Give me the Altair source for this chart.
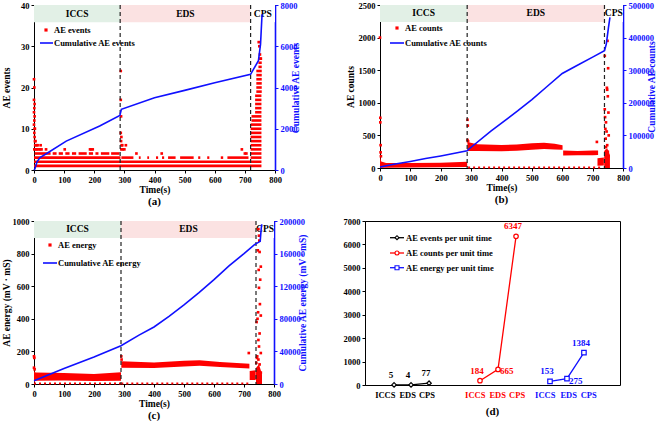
import altair as alt
import pandas as pd

FONT = "Liberation Serif"
RED = "#ff0000"
BLUE = "#1010ff"
ICCS_FILL = "#e2f0e6"
EDS_FILL = "#fbe2e2"
TICK_FS = 8.5
TITLE_FS = 9.5

time_ticks = [0, 100, 200, 300, 400, 500, 600, 700, 800]

# ---------------- (a) AE events ----------------
a_bounds = [286, 719]
a_cum_t = [0, 3, 10, 20, 42, 107, 218, 285, 290, 400, 500, 600, 719, 745, 752, 757]
a_cum_v = [0, 50, 400, 600, 800, 1400, 2130, 2650, 2940, 3500, 3860, 4230, 4640, 5300, 6100, 7550]
# dense rows of integer event counts: level, start time, end time
a_row_level = [1, 2, 3,
               3, 3, 3, 3, 3, 3, 3, 3, 3, 3, 3,
               3,
               4, 4, 4, 4, 4, 4, 4, 4, 4, 4,
               4, 5, 6, 7, 8, 9, 10, 11,
               12, 13, 14, 15, 16, 17, 18,
               19, 20, 21, 22, 23, 24, 25, 26, 27]
a_row_start = [0, 0, 0,
               290, 348, 376, 405, 425, 445, 485, 545, 575, 620, 642,
               719,
               2, 62, 82, 104, 126, 148, 182, 204, 222, 256,
               719, 719, 719, 719, 719, 719, 719, 719,
               722, 722, 734, 734, 734, 734, 734,
               738, 738, 738, 738, 738, 738, 745, 745, 745]
a_row_end = [755, 755, 287,
             330, 354, 382, 412, 432, 470, 530, 552, 582, 628, 712,
             755,
             55, 75, 96, 118, 140, 175, 196, 214, 250, 284,
             755, 755, 755, 755, 755, 755, 755, 755,
             755, 755, 755, 755, 755, 755, 755,
             756, 756, 756, 756, 756, 756, 756, 756, 756]
a_pt_t = [0, 1, 0, 2, 1, 0, 2, 1, 0, 2, 3, 1, 2, 3, 5, 8, 4, 12, 1, 6, 10, 15, 20, 25, 40, 102, 186, 190, 195, 22,
          288, 288, 289, 288, 290, 289, 291, 293, 290, 295, 300, 305, 340, 424, 690, 705, 700,
          746, 748, 750, 753]
a_pt_v = [22, 20, 17, 16, 15, 14, 13, 12, 11, 10, 10, 9, 8, 7, 7, 6, 6, 6, 5, 5, 5, 5, 5, 5, 5, 5, 5, 5, 5, 6,
          24, 17, 13, 9, 8, 7, 6, 6, 5, 5, 5, 6, 4, 4, 5, 4, 4,
          31, 30, 28, 27]

# ---------------- (b) AE counts ----------------
b_bounds = [287, 739]
b_cum_t = [0, 50, 100, 150, 200, 250, 287, 290, 365, 453, 500, 550, 600, 650, 700, 739, 745, 752, 757]
b_cum_v = [3000, 12000, 20000, 29000, 37000, 46000, 53000, 56000, 113000, 175000, 210000, 250000,
           290000, 315000, 340000, 360000, 380000, 430000, 462000]
# envelope of the dense point cloud: group, time, low, high
b_band_grp = ["iccs"] * 6 + ["eds1"] * 8 + ["eds2"] * 4 + ["pre"] * 2 + ["cps"] * 3
b_band_t = [0, 4, 20, 100, 200, 287,
            288, 320, 400, 450, 500, 540, 575, 601,
            603, 650, 700, 718,
            716, 737,
            738, 748, 757]
b_band_lo = [5, 5, 5, 8, 10, 15,
             260, 262, 258, 265, 280, 292, 285, 280,
             190, 195, 195, 200,
             35, 40,
             0, 0, 0]
b_band_hi = [180, 100, 75, 75, 80, 95,
             400, 365, 352, 360, 380, 388, 372, 350,
             268, 262, 268, 270,
             150, 160,
             260, 300, 200]
b_dot_start = [290]
b_dot_end = [735]
b_dot_level = [8]
b_pt_t = [0, 1, 1, 2, 3, 2,
          288, 289, 288, 290, 714,
          740, 740, 741, 742, 743, 744, 745, 746, 747, 748, 749, 750, 751, 752, 753, 744, 746, 748, 750, 752]
b_pt_v = [2000, 770, 700, 350, 180, 240,
          740, 650, 430, 410, 400,
          1720, 900, 780, 600, 450, 320, 260, 220, 1230, 1200, 1950, 1100, 1530, 850, 500, 700, 560, 350, 250, 180]

# ---------------- (c) AE energy ----------------
c_bounds = [290, 740]
c_cum_t = [0, 100, 200, 290, 350, 400, 450, 500, 550, 600, 650, 700, 735, 754, 757, 759]
c_cum_v = [4000, 19000, 33000, 47000, 60000, 70000, 83000, 97000, 112000, 128000, 145000, 160000,
           171000, 175000, 189000, 196000]
c_band_grp = ["iccs"] * 5 + ["eds"] * 6 + ["pre"] * 2 + ["cps"] * 3
c_band_t = [0, 5, 100, 200, 290,
            291, 400, 500, 552, 620, 718,
            719, 739,
            740, 750, 760]
c_band_lo = [10, 20, 22, 18, 20,
             100, 98, 108, 112, 105, 95,
             25, 25,
             0, 0, 0]
c_band_hi = [80, 70, 68, 62, 72,
             140, 132, 142, 145, 135, 125,
             80, 85,
             100, 120, 60]
c_dot_start = [0, 291]
c_dot_end = [290, 718]
c_dot_level = [3, 3]
c_pt_t = [0, 1, 0, 2, 291, 292, 716,
          748, 750, 751, 746, 752, 756, 749, 754, 750, 753, 747, 756, 745, 742, 752, 748, 750, 756, 744,
          748, 752, 746, 756, 743, 741]
c_pt_v = [170, 160, 100, 90, 170, 150, 190,
          950, 910, 880, 820, 810, 720, 700, 640, 590, 490, 440, 420, 400, 380, 310, 270, 230, 190, 170,
          150, 120, 90, 70, 160, 130]

# ---------------- (d) per-unit-time rates ----------------
d_stages = ["ICCS", "EDS", "CPS"]
d_events = [5, 4, 77]
d_counts = [184, 665, 6347]
d_energy = [153, 275, 1384]


def txt(**kw):
    base = dict(font=FONT, fontWeight="bold")
    base.update(kw)
    return base


def phase_panel(width, height, left_max, left_ticks, left_title, left_title_pad, right_max, right_ticks,
                right_title, bounds, cum_t, cum_v, pts_t, pts_v, legend_labels, legend_pos, caption,
                rows=None, bands=None, dots=None):
    xs = alt.Scale(domain=[0, 800], nice=False)
    ys = alt.Scale(domain=[0, left_max], nice=False)
    x_axis = alt.Axis(title="Time(s)", values=time_ticks, format="d", labelFont=FONT, labelFontWeight="bold",
                      labelFontSize=TICK_FS, titleFont=FONT, titleFontWeight="bold", titleFontSize=TITLE_FS,
                      titlePadding=1, labelPadding=2, tickSize=3, grid=False, domainColor="black",
                      tickColor="black", labelColor="black", titleColor="black", labelFlush=False)
    y_axis = alt.Axis(title=left_title, values=left_ticks, format="d", labelFont=FONT, labelFontWeight="bold",
                      labelFontSize=TICK_FS, titleFont=FONT, titleFontWeight="bold", titleFontSize=TITLE_FS,
                      titlePadding=left_title_pad, labelPadding=2, tickSize=3, grid=False, domainColor="black",
                      tickColor="black", labelColor="black", titleColor="black")

    def X(f):
        return alt.X(f, type="quantitative", scale=xs, axis=x_axis)

    def Y(f):
        return alt.Y(f, type="quantitative", scale=ys, axis=y_axis)

    hdr_lo = left_max * 0.896
    header = pd.DataFrame({
        "x0": [0, bounds[0], bounds[1]],
        "x1": [bounds[0], bounds[1], 800],
        "fill": [ICCS_FILL, EDS_FILL, "#ffffff"],
        "label": ["ICCS", "EDS", "CPS"],
    })
    header["xm"] = (header["x0"] + header["x1"]) / 2
    header["y0"] = hdr_lo
    header["y1"] = left_max
    header["ym"] = (hdr_lo + left_max) / 2

    layers = [
        alt.Chart(header).mark_rect().encode(x=X("x0"), x2="x1", y=Y("y0"), y2="y1",
                                             color=alt.Color("fill:N", scale=None)),
        alt.Chart(header).mark_text(**txt(fontSize=9.5, baseline="middle")).encode(
            x=X("xm"), y=Y("ym"), text="label:N"),
    ]
    if bands is not None:
        bdf = pd.DataFrame({"grp": bands[0], "t": bands[1], "lo": bands[2], "hi": bands[3]})
        layers.append(alt.Chart(bdf).mark_area(color=RED, opacity=1).encode(
            x=X("t"), y=Y("lo"), y2="hi", detail="grp:N"))
    if rows is not None:
        rdf = pd.DataFrame({"level": rows[0], "t0": rows[1], "t1": rows[2]})
        layers.append(alt.Chart(rdf).mark_rule(color=RED, strokeWidth=2.6, strokeCap="butt").encode(
            x=X("t0"), x2="t1", y=Y("level")))
    if dots is not None:
        ddf = pd.DataFrame({"level": dots[0], "t0": dots[1], "t1": dots[2]})
        layers.append(alt.Chart(ddf).mark_rule(color=RED, strokeWidth=2.2, strokeDash=[2, 3]).encode(
            x=X("t0"), x2="t1", y=Y("level")))
    pdf = pd.DataFrame({"t": pts_t, "v": pts_v})
    layers.append(alt.Chart(pdf).mark_square(color=RED, size=7, opacity=1).encode(x=X("t"), y=Y("v")))
    bdf2 = pd.DataFrame({"t": bounds})
    layers.append(alt.Chart(bdf2).mark_rule(color="#222222", strokeDash=[4, 3], strokeWidth=1.2).encode(
        x=X("t")))

    # legend
    one = pd.DataFrame({"k": [0]})
    px, py, tx, lx0, lx1, ly = legend_pos
    layers += [
        alt.Chart(one).mark_square(color=RED, size=10, opacity=1).encode(x=alt.value(px), y=alt.value(py)),
        alt.Chart(one).mark_text(**txt(fontSize=8.5, align="left", baseline="middle")).encode(
            x=alt.value(tx), y=alt.value(py), text=alt.value(legend_labels[0])),
        alt.Chart(one).mark_rule(color=BLUE, strokeWidth=1.6).encode(
            x=alt.value(lx0), x2=alt.value(lx1), y=alt.value(ly)),
        alt.Chart(one).mark_text(**txt(fontSize=8.5, align="left", baseline="middle")).encode(
            x=alt.value(tx), y=alt.value(ly), text=alt.value(legend_labels[1])),
    ]
    left = alt.layer(*layers)

    cdf = pd.DataFrame({"t": cum_t, "v": cum_v})
    r_axis = alt.Axis(orient="right", title=right_title, values=right_ticks, format="d", labelFont=FONT,
                      labelFontWeight="bold", labelFontSize=TICK_FS, titleFont=FONT, titleFontWeight="bold",
                      titleFontSize=TITLE_FS, titleColor=BLUE, labelColor=BLUE, domainColor=BLUE,
                      tickColor=BLUE, domainWidth=1.6, tickSize=3, labelPadding=2, titlePadding=3,
                      grid=False, titleAngle=270)
    cum = alt.Chart(cdf).mark_line(color=BLUE, strokeWidth=1.6).encode(
        x=X("t"), y=alt.Y("v:Q", scale=alt.Scale(domain=[0, right_max], nice=False), axis=r_axis))

    return alt.layer(left, cum).resolve_scale(y="independent").properties(
        width=width, height=height,
        title=alt.TitleParams(caption, orient="bottom", font=FONT, fontWeight="bold", fontSize=11, offset=2))


pa = phase_panel(241, 165, 40, [0, 10, 20, 30, 40], "AE events", 9, 8000, [0, 2000, 4000, 6000, 8000],
                 "Cumulative AE events", a_bounds, a_cum_t, a_cum_v, a_pt_t, a_pt_v,
                 ["AE events", "Cumulative AE events"], (12, 25, 20, 6, 19, 38), "(a)",
                 rows=(a_row_level, a_row_start, a_row_end))

pb = phase_panel(243, 163, 2500, [0, 500, 1000, 1500, 2000, 2500], "AE counts", 3, 500000,
                 [0, 100000, 200000, 300000, 400000, 500000], "Cumulative AE counts",
                 b_bounds, b_cum_t, b_cum_v, b_pt_t, b_pt_v,
                 ["AE counts", "Cumulative AE counts"], (17, 23, 25, 10, 24, 38), "(b)",
                 bands=(b_band_grp, b_band_t, b_band_lo, b_band_hi),
                 dots=(b_dot_level, b_dot_start, b_dot_end))

pc = phase_panel(240, 163, 1000, [0, 200, 400, 600, 800, 1000], "AE energy (mV · mS)", 1, 200000,
                 [0, 40000, 80000, 120000, 160000, 200000], "Cumulative AE energy (mV · mS)",
                 c_bounds, c_cum_t, c_cum_v, c_pt_t, c_pt_v,
                 ["AE energy", "Cumulative AE energy"], (16, 24, 24, 9, 23, 42), "(c)",
                 bands=(c_band_grp, c_band_t, c_band_lo, c_band_hi),
                 dots=(c_dot_level, c_dot_start, c_dot_end))

# ---- (d) ----
D_W, D_H = 255, 164
d_xs = alt.Scale(domain=[0, 14.57], nice=False)
d_ys = alt.Scale(domain=[0, 7000], nice=False)
d_yaxis = alt.Axis(title=None, values=[0, 1000, 2000, 3000, 4000, 5000, 6000, 7000], format="d",
                   labelFont=FONT, labelFontWeight="bold", labelFontSize=TICK_FS, labelPadding=2, tickSize=3,
                   grid=False, domainColor="black", tickColor="black", labelColor="black")
series = [
    ("AE events per unit time", d_events, "black", "diamond", [1.66, 2.63, 3.66], [1.16, 2.44, 3.54]),
    ("AE counts per unit time", d_counts, RED, "circle", [6.57, 7.6, 8.63], [6.3, 7.58, 8.69]),
    ("AE energy per unit time", d_energy, BLUE, "square", [10.57, 11.54, 12.51], [10.3, 11.64, 12.78]),
]
label_right = {(1, 1), (2, 1)}
d_layers = []
one = pd.DataFrame({"k": [0]})
for si, (name, vals, col, shape, xpos, lpos) in enumerate(series):
    df = pd.DataFrame({"x": xpos, "v": vals, "stage": d_stages, "lx": lpos,
                       "side": ["right" if (si, i) in label_right else "above" for i in range(3)]})
    X = alt.X("x:Q", scale=d_xs, axis=None)
    Y = alt.Y("v:Q", scale=d_ys, axis=d_yaxis)
    d_layers.append(alt.Chart(df).mark_line(color=col, strokeWidth=1.3).encode(x=X, y=Y))
    d_layers.append(alt.Chart(df).mark_point(shape=shape, filled=True, fill="white", stroke=col,
                                             size=20, strokeWidth=1.2, opacity=1).encode(x=X, y=Y))
    d_layers.append(alt.Chart(df).transform_filter("datum.side == 'above'").mark_text(
        **txt(fontSize=9, color=col, align="center", baseline="bottom", dx=-3, dy=-5)).encode(
        x=X, y=Y, text="v:Q"))
    d_layers.append(alt.Chart(df).transform_filter("datum.side == 'right'").mark_text(
        **txt(fontSize=9, color=col, align="left", baseline="middle", dx=2, dy=2)).encode(
        x=X, y=Y, text="v:Q"))
    d_layers.append(alt.Chart(df).mark_text(**txt(fontSize=8.5, color=col, baseline="middle")).encode(
        x=alt.X("lx:Q", scale=d_xs, axis=None), y=alt.value(D_H + 10), text="stage:N"))
    ly = [16.7, 32, 46.7][si]
    d_layers += [
        alt.Chart(one).mark_rule(color=col, strokeWidth=1.3).encode(
            x=alt.value(25), x2=alt.value(39), y=alt.value(ly)),
        alt.Chart(one).mark_point(shape=shape, filled=True, fill="white", stroke=col, size=16,
                                  strokeWidth=1.1, opacity=1).encode(x=alt.value(32), y=alt.value(ly)),
        alt.Chart(one).mark_text(**txt(fontSize=8.5, align="left", baseline="middle")).encode(
            x=alt.value(41), y=alt.value(ly), text=alt.value(name)),
    ]

pd_chart = alt.layer(*d_layers).properties(
    width=D_W, height=D_H,
    title=alt.TitleParams("(d)", orient="bottom", font=FONT, fontWeight="bold", fontSize=11, offset=6))

chart = alt.vconcat(
    alt.hconcat(pa, pb, spacing=44),
    alt.hconcat(pc, pd_chart, spacing=34),
    spacing=8,
).properties(
    padding={"left": 0, "top": 0, "right": 0, "bottom": 0},
    background="white",
).configure_view(stroke="black", strokeWidth=1)

chart.save("out.html", embed_options={"renderer": "svg", "actions": False})
